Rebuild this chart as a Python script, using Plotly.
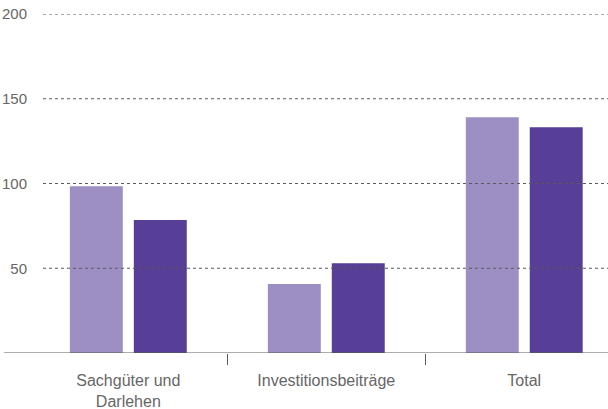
import plotly.graph_objects as go

categories = ["Sachgüter und<br>Darlehen", "Investitionsbeiträge", "Total"]
series_a = [98.4, 40.7, 139.1]
series_b = [78.4, 53.0, 133.2]
y_ticks = [50, 100, 150, 200]

light = "#9d8fc4"
dark = "#573e96"
grid = "#5a5a5a"
font_fam = "Liberation Sans, Arial, sans-serif"

fig = go.Figure()
fig.add_trace(go.Bar(x=categories, y=series_a, marker=dict(color=light, line=dict(width=0)), name="A"))
fig.add_trace(go.Bar(x=categories, y=series_b, marker=dict(color=dark, line=dict(width=0)), name="B"))

shapes = []
for t in y_ticks:
    shapes.append(dict(type="line", xref="paper", yref="y", x0=0, x1=1, y0=t, y1=t,
                       line=dict(color=grid, width=1, dash="3px,3px"), layer="above"))
shapes.append(dict(type="line", xref="paper", yref="y", x0=-0.069, x1=1, y0=0, y1=0,
                   line=dict(color=grid, width=1), layer="above"))

fig.update_layout(
    width=608, height=409,
    margin=dict(l=43, r=0, t=14, b=56),
    paper_bgcolor="white", plot_bgcolor="white",
    barmode="group", bargap=0.354, bargroupgap=0.172,
    showlegend=False,
    font=dict(family=font_fam, color="#666666", size=15),
    shapes=shapes,
    xaxis=dict(range=[-0.431, 2.423], tickson="boundaries", ticks="outside", ticklen=11,
               tickcolor=grid, tickwidth=1, showgrid=False, showline=False, zeroline=False,
               automargin=False, ticklabelstandoff=16,
               tickfont=dict(size=16, color="#666666")),
    yaxis=dict(range=[0, 200], tickvals=y_ticks, showgrid=False, zeroline=False, showline=False,
               automargin=False, ticks="", ticklabelstandoff=15,
               tickfont=dict(size=15, color="#666666")),
)

fig.write_html("out.html", config={"displayModeBar": False},
               post_script="document.body.style.margin='0';document.body.style.overflow='hidden';")
